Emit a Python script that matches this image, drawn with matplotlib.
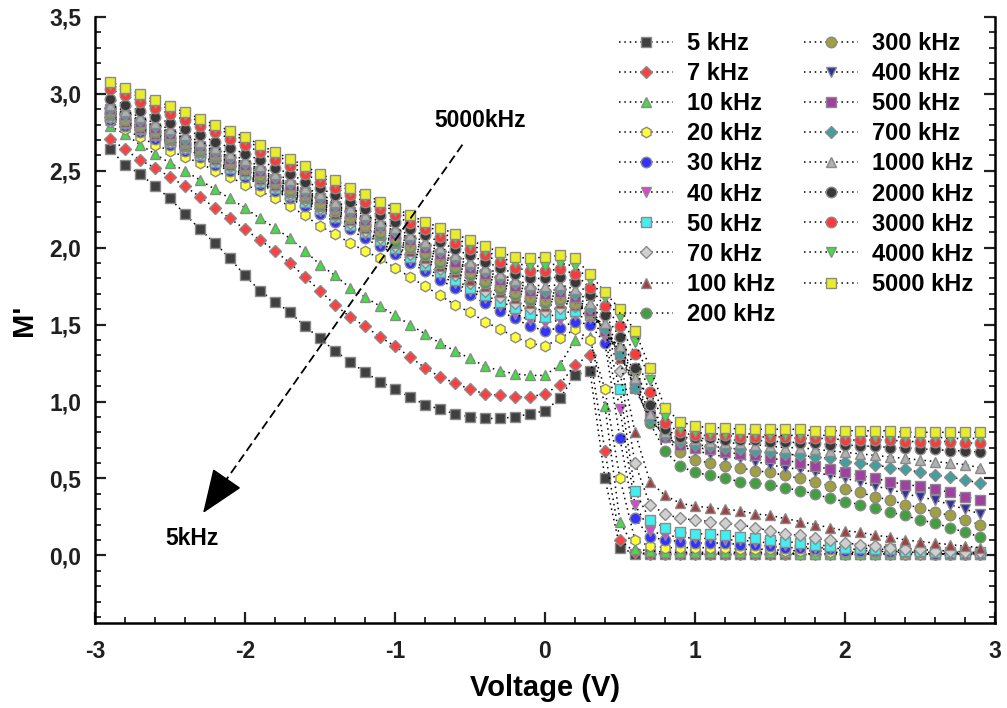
import matplotlib.pyplot as plt
from matplotlib.ticker import MultipleLocator

plt.rcParams['font.family'] = ['Liberation Sans', 'DejaVu Sans']
plt.rcParams['font.weight'] = 'bold'
plt.rcParams['axes.labelweight'] = 'bold'

voltage = [-2.9, -2.8, -2.7, -2.6, -2.5, -2.4, -2.3, -2.2, -2.1, -2.0,
           -1.9, -1.8, -1.7, -1.6, -1.5, -1.4, -1.3, -1.2, -1.1, -1.0,
           -0.9, -0.8, -0.7, -0.6, -0.5, -0.4, -0.3, -0.2, -0.1, 0.0,
           0.1, 0.2, 0.3, 0.4, 0.5, 0.6, 0.7, 0.8, 0.9, 1.0,
           1.1, 1.2, 1.3, 1.4, 1.5, 1.6, 1.7, 1.8, 1.9, 2.0,
           2.1, 2.2, 2.3, 2.4, 2.5, 2.6, 2.7, 2.8, 2.9]

m_5k = [2.64, 2.54, 2.48, 2.40, 2.32, 2.22, 2.12, 2.03, 1.93, 1.82,
        1.72, 1.65, 1.58, 1.49, 1.41, 1.33, 1.26, 1.19, 1.13, 1.08,
        1.03, 0.98, 0.95, 0.92, 0.90, 0.89, 0.89, 0.90, 0.92, 0.94,
        1.02, 1.17, 1.20, 0.50, 0.05, 0.01, 0.01, 0.01, 0.01, 0.01,
        0.01, 0.01, 0.01, 0.01, 0.01, 0.01, 0.01, 0.01, 0.01, 0.01,
        0.01, 0.01, 0.01, 0.01, 0.01, 0.01, 0.01, 0.01, 0.01]
m_7k = [2.71, 2.64, 2.57, 2.52, 2.46, 2.40, 2.33, 2.26, 2.19, 2.12,
        2.05, 1.98, 1.90, 1.81, 1.72, 1.63, 1.55, 1.49, 1.42, 1.36,
        1.29, 1.22, 1.16, 1.12, 1.08, 1.05, 1.04, 1.03, 1.03, 1.05,
        1.11, 1.24, 1.30, 0.68, 0.10, 0.02, 0.01, 0.01, 0.01, 0.01,
        0.01, 0.01, 0.01, 0.01, 0.01, 0.01, 0.01, 0.01, 0.01, 0.01,
        0.01, 0.01, 0.01, 0.01, 0.01, 0.01, 0.01, 0.01, 0.01]
m_10k = [2.79, 2.74, 2.67, 2.61, 2.55, 2.50, 2.44, 2.38, 2.32, 2.26,
         2.19, 2.13, 2.06, 1.98, 1.89, 1.82, 1.74, 1.68, 1.62, 1.56,
         1.50, 1.44, 1.38, 1.33, 1.28, 1.23, 1.20, 1.18, 1.17, 1.17,
         1.24, 1.40, 1.42, 0.97, 0.22, 0.04, 0.03, 0.02, 0.02, 0.02,
         0.02, 0.02, 0.02, 0.02, 0.02, 0.02, 0.01, 0.01, 0.01, 0.01,
         0.01, 0.01, 0.01, 0.01, 0.01, 0.01, 0.01, 0.01, 0.01]
m_20k = [2.82, 2.77, 2.72, 2.67, 2.63, 2.59, 2.55, 2.50, 2.46, 2.41,
         2.37, 2.32, 2.27, 2.21, 2.14, 2.09, 2.03, 1.98, 1.93, 1.87,
         1.81, 1.75, 1.69, 1.63, 1.58, 1.52, 1.47, 1.42, 1.38, 1.36,
         1.41, 1.47, 1.40, 1.08, 0.50, 0.10, 0.06, 0.05, 0.05, 0.05,
         0.05, 0.05, 0.04, 0.04, 0.04, 0.03, 0.03, 0.03, 0.02, 0.02,
         0.02, 0.02, 0.02, 0.01, 0.01, 0.01, 0.01, 0.01, 0.01]
m_30k = [2.83, 2.79, 2.75, 2.71, 2.67, 2.63, 2.59, 2.54, 2.50, 2.46,
         2.41, 2.37, 2.32, 2.27, 2.22, 2.17, 2.12, 2.06, 2.01, 1.96,
         1.90, 1.85, 1.79, 1.74, 1.69, 1.64, 1.59, 1.54, 1.49, 1.46,
         1.48, 1.52, 1.50, 1.38, 0.76, 0.24, 0.12, 0.10, 0.09, 0.08,
         0.08, 0.08, 0.07, 0.07, 0.06, 0.05, 0.05, 0.04, 0.04, 0.03,
         0.03, 0.03, 0.02, 0.02, 0.02, 0.01, 0.01, 0.01, 0.01]
m_40k = [2.84, 2.80, 2.76, 2.72, 2.68, 2.64, 2.60, 2.55, 2.51, 2.47,
         2.42, 2.38, 2.33, 2.29, 2.24, 2.19, 2.14, 2.09, 2.03, 1.98,
         1.92, 1.87, 1.82, 1.77, 1.72, 1.67, 1.62, 1.57, 1.53, 1.51,
         1.53, 1.56, 1.54, 1.42, 0.95, 0.33, 0.16, 0.13, 0.12, 0.11,
         0.11, 0.10, 0.10, 0.09, 0.08, 0.07, 0.06, 0.05, 0.05, 0.04,
         0.04, 0.03, 0.03, 0.02, 0.02, 0.02, 0.01, 0.01, 0.01]
m_50k = [2.85, 2.81, 2.77, 2.73, 2.69, 2.65, 2.60, 2.56, 2.52, 2.48,
         2.43, 2.39, 2.34, 2.30, 2.25, 2.20, 2.15, 2.10, 2.05, 2.00,
         1.94, 1.89, 1.84, 1.79, 1.74, 1.69, 1.65, 1.61, 1.57, 1.55,
         1.57, 1.59, 1.56, 1.46, 1.08, 0.42, 0.23, 0.18, 0.15, 0.14,
         0.14, 0.13, 0.12, 0.11, 0.10, 0.09, 0.08, 0.07, 0.06, 0.05,
         0.05, 0.04, 0.04, 0.03, 0.03, 0.02, 0.02, 0.02, 0.02]
m_70k = [2.85, 2.81, 2.77, 2.73, 2.69, 2.65, 2.61, 2.57, 2.53, 2.49,
         2.44, 2.40, 2.35, 2.31, 2.26, 2.21, 2.16, 2.11, 2.06, 2.01,
         1.96, 1.91, 1.86, 1.82, 1.77, 1.72, 1.68, 1.64, 1.61, 1.59,
         1.61, 1.62, 1.58, 1.48, 1.20, 0.60, 0.33, 0.27, 0.24, 0.23,
         0.22, 0.21, 0.20, 0.18, 0.16, 0.14, 0.13, 0.11, 0.10, 0.08,
         0.07, 0.06, 0.05, 0.04, 0.04, 0.03, 0.03, 0.02, 0.02]
m_100k = [2.86, 2.82, 2.78, 2.74, 2.70, 2.66, 2.62, 2.58, 2.54, 2.50,
          2.45, 2.41, 2.36, 2.32, 2.27, 2.22, 2.18, 2.13, 2.08, 2.03,
          1.98, 1.93, 1.88, 1.84, 1.79, 1.75, 1.71, 1.67, 1.64, 1.62,
          1.64, 1.63, 1.58, 1.48, 1.28, 0.80, 0.48, 0.39, 0.34, 0.32,
          0.31, 0.30, 0.29, 0.27, 0.26, 0.24, 0.22, 0.20, 0.18, 0.16,
          0.15, 0.13, 0.12, 0.10, 0.09, 0.08, 0.07, 0.06, 0.05]
m_200k = [2.87, 2.83, 2.79, 2.75, 2.71, 2.67, 2.63, 2.59, 2.55, 2.51,
          2.46, 2.42, 2.37, 2.33, 2.28, 2.24, 2.19, 2.14, 2.09, 2.04,
          2.00, 1.95, 1.90, 1.86, 1.82, 1.77, 1.73, 1.69, 1.66, 1.64,
          1.66, 1.64, 1.58, 1.48, 1.33, 1.12, 0.86, 0.68, 0.58, 0.54,
          0.52, 0.50, 0.48, 0.47, 0.46, 0.44, 0.42, 0.40, 0.37, 0.35,
          0.33, 0.31, 0.28, 0.26, 0.23, 0.21, 0.18, 0.15, 0.12]
m_300k = [2.88, 2.84, 2.80, 2.76, 2.72, 2.68, 2.64, 2.60, 2.56, 2.52,
          2.47, 2.43, 2.38, 2.34, 2.29, 2.25, 2.20, 2.15, 2.11, 2.06,
          2.01, 1.97, 1.92, 1.88, 1.84, 1.79, 1.75, 1.71, 1.68, 1.66,
          1.67, 1.64, 1.57, 1.47, 1.34, 1.20, 0.98, 0.77, 0.67, 0.62,
          0.60, 0.58, 0.57, 0.55, 0.54, 0.52, 0.50, 0.48, 0.45, 0.43,
          0.41, 0.38, 0.36, 0.33, 0.31, 0.28, 0.26, 0.23, 0.20]
m_400k = [2.89, 2.85, 2.81, 2.77, 2.73, 2.69, 2.65, 2.61, 2.57, 2.53,
          2.49, 2.44, 2.40, 2.35, 2.31, 2.26, 2.22, 2.17, 2.12, 2.08,
          2.03, 1.99, 1.94, 1.90, 1.86, 1.81, 1.77, 1.73, 1.70, 1.68,
          1.69, 1.66, 1.58, 1.46, 1.32, 1.12, 0.91, 0.77, 0.71, 0.68,
          0.66, 0.64, 0.63, 0.61, 0.59, 0.57, 0.56, 0.54, 0.52, 0.50,
          0.48, 0.45, 0.43, 0.40, 0.38, 0.36, 0.33, 0.30, 0.27]
m_500k = [2.90, 2.86, 2.82, 2.78, 2.74, 2.70, 2.66, 2.62, 2.58, 2.54,
          2.50, 2.45, 2.41, 2.36, 2.32, 2.27, 2.23, 2.18, 2.14, 2.09,
          2.05, 2.00, 1.96, 1.91, 1.87, 1.83, 1.79, 1.75, 1.72, 1.70,
          1.71, 1.68, 1.59, 1.46, 1.31, 1.09, 0.89, 0.77, 0.72, 0.70,
          0.69, 0.67, 0.66, 0.65, 0.63, 0.62, 0.60, 0.58, 0.56, 0.54,
          0.52, 0.50, 0.48, 0.46, 0.45, 0.43, 0.41, 0.38, 0.36]
m_700k = [2.91, 2.87, 2.83, 2.79, 2.75, 2.71, 2.67, 2.63, 2.59, 2.55,
          2.51, 2.46, 2.42, 2.37, 2.33, 2.28, 2.24, 2.19, 2.15, 2.11,
          2.06, 2.02, 1.98, 1.93, 1.89, 1.85, 1.81, 1.77, 1.74, 1.72,
          1.73, 1.70, 1.61, 1.47, 1.31, 1.09, 0.88, 0.78, 0.74, 0.72,
          0.71, 0.70, 0.69, 0.68, 0.67, 0.66, 0.65, 0.64, 0.63, 0.61,
          0.60, 0.59, 0.57, 0.56, 0.54, 0.52, 0.51, 0.49, 0.47]
m_1000k = [2.93, 2.89, 2.85, 2.81, 2.77, 2.73, 2.69, 2.65, 2.61, 2.57,
           2.53, 2.48, 2.44, 2.39, 2.35, 2.30, 2.26, 2.21, 2.17, 2.13,
           2.08, 2.04, 2.00, 1.95, 1.91, 1.87, 1.83, 1.79, 1.76, 1.75,
           1.76, 1.73, 1.64, 1.51, 1.36, 1.15, 0.92, 0.80, 0.76, 0.75,
           0.74, 0.73, 0.73, 0.72, 0.71, 0.70, 0.70, 0.69, 0.68, 0.67,
           0.66, 0.65, 0.64, 0.63, 0.62, 0.61, 0.60, 0.59, 0.57]
m_2000k = [2.97, 2.93, 2.89, 2.85, 2.81, 2.77, 2.73, 2.69, 2.65, 2.61,
           2.57, 2.52, 2.48, 2.43, 2.39, 2.34, 2.30, 2.25, 2.21, 2.17,
           2.12, 2.08, 2.04, 1.99, 1.95, 1.91, 1.87, 1.83, 1.80, 1.80,
           1.81, 1.78, 1.69, 1.56, 1.42, 1.22, 0.98, 0.82, 0.77, 0.76,
           0.76, 0.75, 0.75, 0.75, 0.74, 0.74, 0.73, 0.73, 0.72, 0.72,
           0.71, 0.71, 0.70, 0.70, 0.69, 0.69, 0.68, 0.68, 0.67]
m_3000k = [3.03, 2.99, 2.95, 2.91, 2.87, 2.83, 2.79, 2.75, 2.71, 2.67,
           2.62, 2.57, 2.53, 2.48, 2.43, 2.39, 2.34, 2.30, 2.25, 2.21,
           2.16, 2.12, 2.07, 2.03, 1.99, 1.95, 1.91, 1.87, 1.85, 1.85,
           1.86, 1.83, 1.74, 1.62, 1.49, 1.31, 1.06, 0.86, 0.80, 0.78,
           0.78, 0.78, 0.77, 0.77, 0.77, 0.77, 0.76, 0.76, 0.76, 0.75,
           0.75, 0.75, 0.75, 0.74, 0.74, 0.74, 0.74, 0.73, 0.73]
m_4000k = [3.06, 3.02, 2.98, 2.94, 2.90, 2.86, 2.82, 2.78, 2.74, 2.70,
           2.65, 2.60, 2.56, 2.51, 2.46, 2.42, 2.37, 2.33, 2.28, 2.24,
           2.19, 2.15, 2.10, 2.06, 2.02, 1.98, 1.94, 1.90, 1.88, 1.88,
           1.90, 1.88, 1.79, 1.67, 1.55, 1.39, 1.14, 0.90, 0.82, 0.80,
           0.79, 0.79, 0.79, 0.79, 0.78, 0.78, 0.78, 0.78, 0.78, 0.78,
           0.78, 0.77, 0.77, 0.77, 0.77, 0.77, 0.76, 0.76, 0.76]
m_5000k = [3.08, 3.04, 3.00, 2.96, 2.92, 2.88, 2.84, 2.80, 2.76, 2.72,
           2.67, 2.62, 2.58, 2.53, 2.48, 2.44, 2.39, 2.35, 2.30, 2.26,
           2.21, 2.17, 2.13, 2.09, 2.05, 2.01, 1.97, 1.94, 1.93, 1.94,
           1.95, 1.93, 1.83, 1.71, 1.60, 1.46, 1.22, 0.96, 0.87, 0.84,
           0.83, 0.83, 0.82, 0.82, 0.82, 0.82, 0.82, 0.81, 0.81, 0.81,
           0.81, 0.81, 0.81, 0.80, 0.80, 0.80, 0.80, 0.80, 0.80]

series = [m_5k, m_7k, m_10k, m_20k, m_30k, m_40k, m_50k, m_70k, m_100k, m_200k,
          m_300k, m_400k, m_500k, m_700k, m_1000k, m_2000k, m_3000k, m_4000k, m_5000k]
labels = ['5 kHz', '7 kHz', '10 kHz', '20 kHz', '30 kHz', '40 kHz', '50 kHz',
          '70 kHz', '100 kHz', '200 kHz', '300 kHz', '400 kHz', '500 kHz',
          '700 kHz', '1000 kHz', '2000 kHz', '3000 kHz', '4000 kHz', '5000 kHz']
colors = ['#404040', '#ff4040', '#40e040', '#ffff33', '#3333ff', '#e040e0',
          '#40f0f0', '#d0d0d0', '#a04040', '#40a040', '#a0a040', '#3030a0',
          '#a040a0', '#40a0a0', '#b0b0b0', '#383838', '#ff3838', '#40e040', '#e8ec2a']
markers = ['s', 'D', '^', 'h', 'o', 'v', 's', 'D', '^', 'o',
           'o', 'v', 's', 'D', '^', 'o', 'o', 'v', 's']

y_ticks = [0.0, 0.5, 1.0, 1.5, 2.0, 2.5, 3.0, 3.5]
y_ticklabels = ['0,0', '0,5', '1,0', '1,5', '2,0', '2,5', '3,0', '3,5']
x_ticks = [-3, -2, -1, 0, 1, 2, 3]

fig = plt.figure(figsize=(10.07, 7.08), dpi=100)
ax = fig.add_axes([0.0943, 0.12, 0.8937, 0.856])

for vals, lab, col, mk in zip(series, labels, colors, markers):
    ms = 6.4 if mk == 'D' else 7.6
    ax.plot(voltage, vals, linestyle=(0, (1, 2.5)), linewidth=1.1, color='black',
            marker=mk, markersize=ms, markerfacecolor=col,
            markeredgecolor='#8a8a8a', markeredgewidth=1.0, label=lab)

# arrow from high to low frequency
ax.plot([-0.55, -2.22], [2.67, 0.36], linestyle=(0, (5, 2.5)), color='black', linewidth=1.3)
ax.annotate('', xy=(-2.29, 0.26), xytext=(-2.12, 0.50),
            arrowprops=dict(arrowstyle='-|>,head_length=1.4,head_width=0.55',
                            color='black', linewidth=1.2, mutation_scale=20))
ax.text(-0.43, 2.83, '5000kHz', fontsize=16.5, ha='center', va='center')
ax.text(-2.35, 0.11, '5kHz', fontsize=16.5, ha='center', va='center')

ax.set_xlim(-3, 3)
ax.set_ylim(-0.44, 3.5)
ax.set_xticks(x_ticks)
ax.set_xticklabels([str(v) for v in x_ticks])
ax.set_yticks(y_ticks)
ax.set_yticklabels(y_ticklabels)
ax.xaxis.set_minor_locator(MultipleLocator(0.2))
ax.yaxis.set_minor_locator(MultipleLocator(0.1))
ax.tick_params(which='both', direction='in', right=True, top=False, labelsize=16.5, colors='#202020')
ax.tick_params(axis='y', which='major', pad=10)
ax.tick_params(axis='x', which='major', pad=12)
ax.tick_params(which='major', length=8, width=1.6)
ax.tick_params(which='minor', length=4.5, width=1.3)
for side in ['left', 'right', 'bottom']:
    ax.spines[side].set_linewidth(1.8)
ax.spines['top'].set_visible(False)

ax.set_xlabel('Voltage (V)', fontsize=21, labelpad=8)
ax.set_ylabel("M'", fontsize=21, labelpad=8)

ax.legend(ncol=2, loc='upper left', bbox_to_anchor=(0.582, 0.975), frameon=False,
          fontsize=17, handlelength=2.3, handletextpad=0.6, columnspacing=1.2,
          labelspacing=0.3, borderpad=0, borderaxespad=0, numpoints=1)

fig.savefig('out.png', dpi=100)
